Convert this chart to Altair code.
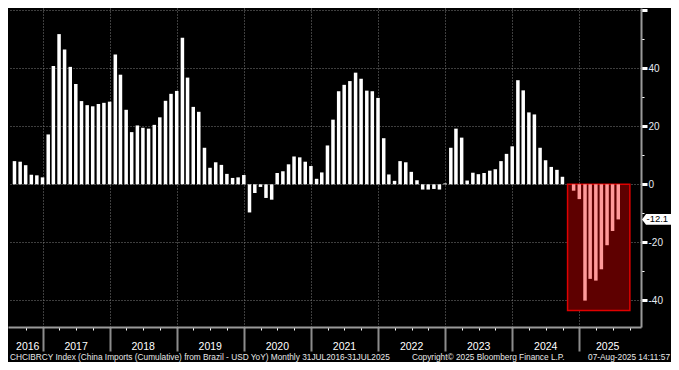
import altair as alt
import pandas as pd

# China imports (cumulative) from Brazil, USD YoY %, monthly Jul 2016 - Jul 2025
v2016 = [8.0, 7.8, 6.6, 3.3, 3.1, 2.4]
v2017 = [17.2, 40.8, 51.8, 46.5, 40.5, 34.6, 28.7, 27.3, 26.9, 27.7, 28.1, 28.5]
v2018 = [44.8, 37.8, 25.7, 18.0, 20.3, 19.5, 19.2, 20.5, 23.1, 28.8, 31.2, 32.2]
v2019 = [50.5, 36.8, 26.7, 25.0, 12.6, 5.7, 7.6, 6.7, 3.6, 2.2, 2.4, 3.2]
v2020 = [-9.7, -3.0, -0.9, -4.7, -5.3, 3.9, 4.5, 6.9, 9.6, 9.3, 7.8, 6.3]
v2021 = [1.9, 4.1, 13.4, 22.3, 32.1, 34.3, 35.6, 38.5, 36.4, 32.3, 32.1, 29.8]
v2022 = [15.9, 3.4, 1.2, 8.0, 7.6, 4.3, 1.4, -1.8, -1.8, -1.6, -1.8, 0.3]
v2023 = [12.6, 19.2, 16.1, 1.3, 4.0, 3.5, 3.9, 4.7, 5.2, 8.0, 10.5, 13.1]
v2024 = [35.9, 32.4, 24.8, 24.1, 12.6, 8.3, 6.0, 5.0, 2.6, 0.0, -2.2, -5.1]
v2025 = [-40.1, -32.6, -33.2, -29.3, -21.0, -16.1, -12.1]

values = v2016 + v2017 + v2018 + v2019 + v2020 + v2021 + v2022 + v2023 + v2024 + v2025
first_month = "2016-07-01"
highlight_from = "2024-11-01"
highlight_box = {"start": "2024-10-28", "end": "2025-10-02", "low": -43.5, "high": 0.0}
last_label = "-12.1"
year_labels = [str(y) for y in range(2016, 2026)]
y_major = [-40, -20, 0, 20, 40, 60]
y_minor = [-30, -10, 10, 30, 50]

left_text = "CHCIBRCY Index (China Imports (Cumulative) from Brazil - USD YoY)  Monthly 31JUL2016-31JUL2025"
mid_text = "Copyright\u00a9 2025 Bloomberg Finance L.P."
right_text = "07-Aug-2025 14:11:57"

FONT = "Liberation Sans"


def dec_year(d):
    d = pd.Timestamp(d)
    return d.year + d.dayofyear / (366.0 if d.is_leap_year else 365.0)


dates = pd.date_range(first_month, periods=len(values), freq="MS") + pd.offsets.MonthEnd(0)
bars_df = pd.DataFrame({
    "t": [dec_year(d) for d in dates],
    "v": values,
    "hl": [bool(d >= pd.Timestamp(highlight_from)) for d in dates],
})

X0, X1 = 2016.56, 2025.845
xs = alt.Scale(domain=[X0, X1], nice=False, zero=False)
ys = alt.Scale(domain=[-49.2, 60.8], nice=False, zero=False)
W, H = 633, 319

box_df = pd.DataFrame({
    "x0": [dec_year(highlight_box["start"])], "x1": [dec_year(highlight_box["end"])],
    "y0": [highlight_box["low"]], "y1": [highlight_box["high"]],
})

years_num = list(range(2016, 2026))
centers = []
for y in years_num:
    a = max(float(y), X0)
    b = min(float(y + 1), X1)
    centers.append((a + b) / 2)
years_df = pd.DataFrame({"tc": centers, "label": year_labels})

quarters = [y + q for y in range(2016, 2026) for q in (0.25, 0.5, 0.75) if X0 <= y + q <= X1]

grid_color = "#7c7c7c"
axis_color = "#9a9a9a"

box = alt.Chart(box_df).mark_rect(fill="#5e0000", stroke="#e00000", strokeWidth=1.5).encode(
    x=alt.X("x0:Q", scale=xs, axis=alt.Axis(orient="bottom", values=quarters, labels=False,
                                            ticks=True, tickSize=3, tickColor="white", tickWidth=1,
                                            domain=False, grid=False, title=None)),
    x2="x1:Q",
    y=alt.Y("y0:Q", scale=ys, axis=alt.Axis(orient="right", values=y_minor, labels=False,
                                            ticks=True, tickSize=3, tickColor="white", tickWidth=1,
                                            domain=False, grid=False, title=None)),
    y2="y1:Q",
)

bars = alt.Chart(bars_df).mark_bar(size=3.5).encode(
    x=alt.X("t:Q", scale=xs, axis=alt.Axis(orient="bottom", values=list(range(2017, 2026)),
                                           labels=False, ticks=True, tickSize=24, tickColor="#8c8c8c",
                                           tickWidth=2, domain=True, domainColor=axis_color,
                                           domainWidth=2, grid=True, gridColor=grid_color,
                                           gridDash=[1, 2], gridWidth=1, title=None)),
    y=alt.Y("v:Q", scale=ys, axis=alt.Axis(orient="right", values=y_major,
                                           labelExpr="datum.value == 60 ? '' : '' + datum.value",
                                           ticks=True, tickSize=6, tickWidth=3, tickColor="white",
                                           labelColor="#e6ebf5", labelFont=FONT, labelFontSize=10,
                                           labelPadding=1, labelAlign="left", labelBaseline="middle",
                                           domain=True, domainColor=axis_color, domainWidth=2,
                                           grid=True, gridColor=grid_color, gridDash=[1, 2],
                                           gridWidth=1, title=None)),
    y2=alt.datum(0),
    color=alt.condition(alt.datum.hl, alt.value("#ff9a9a"), alt.value("white")),
)

years = alt.Chart(years_df).mark_text(color="white", font=FONT, fontSize=10.5, baseline="middle").encode(
    x=alt.X("tc:Q", scale=xs, axis=None),
    y=alt.value(H + 19.5),
    text="label:N",
)

foot_df = pd.DataFrame({"left": [left_text], "mid": [mid_text], "right": [right_text]})
foot_left = alt.Chart(foot_df).mark_text(color="#e8e8e8", font=FONT, fontSize=8.3, align="left",
                                         baseline="middle").encode(
    x=alt.value(2), y=alt.value(H + 30.5), text="left:N")
foot_mid = alt.Chart(foot_df).mark_text(color="#e8e8e8", font=FONT, fontSize=8.3, align="left",
                                        baseline="middle").encode(
    x=alt.value(404), y=alt.value(H + 30.5), text="mid:N")
foot_right = alt.Chart(foot_df).mark_text(color="#e8e8e8", font=FONT, fontSize=8.3, align="right",
                                          baseline="middle").encode(
    x=alt.value(662), y=alt.value(H + 30.5), text="right:N")

last_df = pd.DataFrame({"v": [values[-1]], "label": [last_label]})
tag_shape = "M -1 0 L -0.72 -0.37 L 1 -0.37 L 1 0.37 L -0.72 0.37 Z"
tag = alt.Chart(last_df).mark_point(shape=tag_shape, filled=True, fill="white", stroke=None,
                                    size=841, opacity=1).encode(
    x=alt.value(648.5),
    y=alt.Y("v:Q", scale=ys, axis=None),
)
tag_text = alt.Chart(last_df).mark_text(color="black", font=FONT, fontSize=9.5, align="left",
                                        baseline="middle").encode(
    x=alt.value(638.5),
    y=alt.Y("v:Q", scale=ys, axis=None),
    text="label:N",
)

chart = alt.layer(box, bars, years, foot_left, foot_mid, foot_right, tag, tag_text).resolve_axis(
    x="independent", y="independent"
).properties(
    width=W, height=H,
    autosize=alt.AutoSizeParams(type="none"),
    padding={"left": 0, "top": 0, "right": 30, "bottom": 35},
).configure(background="black").configure_view(stroke=None)

chart.save("out.html", embed_options={"renderer": "svg", "actions": False})
